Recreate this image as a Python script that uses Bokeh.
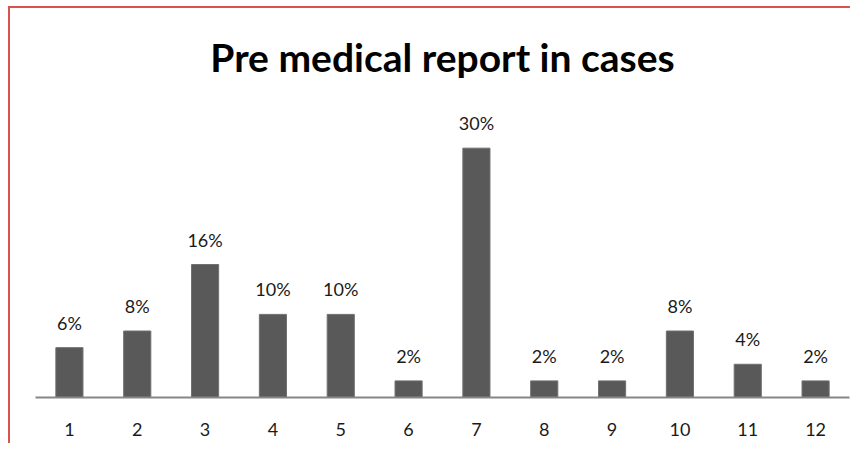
from bokeh.plotting import figure
from bokeh.models import ColumnDataSource, FixedTicker, Range1d, Title
from bokeh.core.properties import value
from bokeh.embed import file_html
from bokeh.resources import INLINE

cases = [1, 2, 3, 4, 5, 6, 7, 8, 9, 10, 11, 12]
percent = [6, 8, 16, 10, 10, 2, 30, 2, 2, 8, 4, 2]
labels = [f"{v}%" for v in percent]

src = ColumnDataSource(dict(x=cases, top=percent, label=labels))

p = figure(width=842, height=437, output_backend="svg", toolbar_location=None,
           x_range=Range1d(0.5, 12.5), y_range=Range1d(0, 37.3),
           min_border_left=25, min_border_right=3, min_border_top=79,
           min_border_bottom=48,
           styles={"border-top": "2px solid #d9534f", "border-left": "2px solid #d9534f",
                   "margin-left": "8px", "margin-top": "6px"})

p.vbar(x="x", top="top", width=0.4, bottom=0, source=src,
       fill_color="#595959", line_color="#707070", line_width=1)

p.text(x="x", y="top", text="label", source=src, text_align="center",
       text_baseline="bottom", y_offset=-14, text_font=value("Lato"),
       text_font_size="18px", text_color="#1a1a1a")

p.title = Title(text="Pre medical report in cases", align="center",
                text_font="Lato", text_font_size="39px", text_font_style="bold",
                text_color="#000000", standoff=15)

p.xaxis.ticker = FixedTicker(ticks=cases)
p.xaxis.major_tick_line_color = None
p.xaxis.minor_tick_line_color = None
p.xaxis.axis_line_color = "#868686"
p.xaxis.axis_line_width = 2
p.xaxis.major_label_standoff = 19
p.xaxis.major_label_text_font = "Lato"
p.xaxis.major_label_text_font_size = "18px"
p.xaxis.major_label_text_color = "#1a1a1a"

p.yaxis.visible = False
p.xgrid.grid_line_color = None
p.ygrid.grid_line_color = None
p.outline_line_color = None
p.background_fill_color = "white"
p.border_fill_color = "white"

open("out.html", "w").write(file_html(p, INLINE))
